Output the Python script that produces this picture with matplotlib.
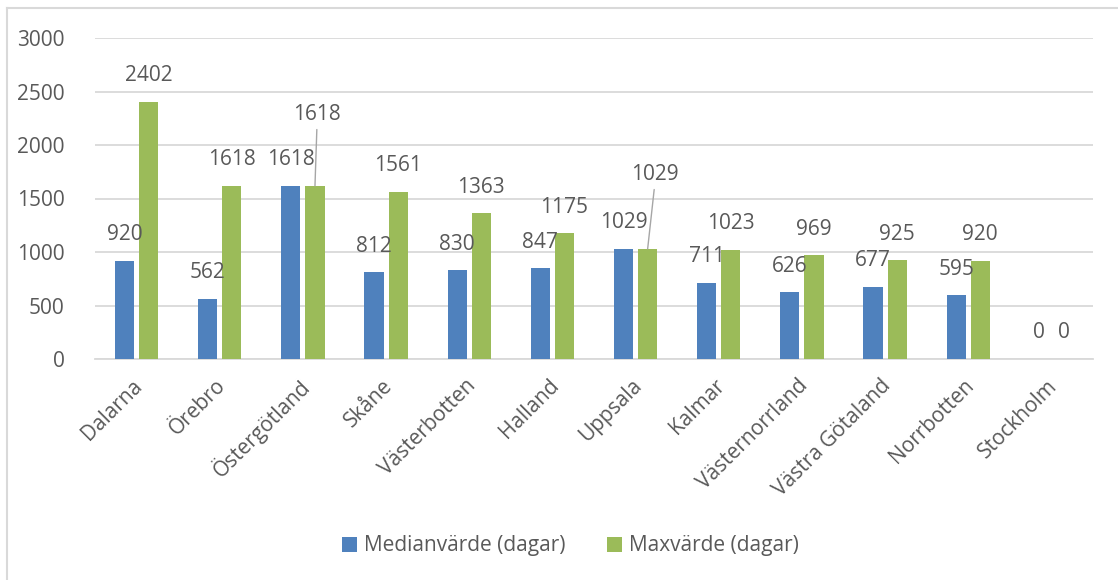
import matplotlib
matplotlib.use("Agg")
import matplotlib.pyplot as plt
import matplotlib.transforms as mtrans
import numpy as np
from matplotlib.lines import Line2D
from matplotlib.patches import Patch

categories = ["Dalarna", "Örebro", "Östergötland", "Skåne", "Västerbotten", "Halland",
              "Uppsala", "Kalmar", "Västernorrland", "Västra Götaland", "Norrbotten", "Stockholm"]
median_values = [920, 562, 1618, 812, 830, 847, 1029, 711, 626, 677, 595, 0]
max_values = [2402, 1618, 1618, 1561, 1363, 1175, 1029, 1023, 969, 925, 920, 0]
series_names = ["Medianvärde (dagar)", "Maxvärde (dagar)"]
y_ticks = [0, 500, 1000, 1500, 2000, 2500, 3000]

BLUE = "#4F81BD"
GREEN = "#9BBB59"
TEXT = "#595959"
GRID = "#D9D9D9"

plt.rcParams['font.family'] = ['Open Sans', 'DejaVu Sans']

W, H = 1118, 580
fig = plt.figure(figsize=(W / 100, H / 100), dpi=100)
fig.patch.set_facecolor("white")
# outer chart frame (only top and left edges visible in the reference)
fig.add_artist(Line2D([7 / W, 1.0], [1 - 8 / H, 1 - 8 / H], transform=fig.transFigure,
                      color=GRID, linewidth=1.5))
fig.add_artist(Line2D([7 / W, 7 / W], [0.0, 1 - 8 / H], transform=fig.transFigure,
                      color=GRID, linewidth=1.5))

ax = fig.add_axes([95 / W, 1 - 359 / H, (1093 - 95) / W, (359 - 38) / H])
x = np.arange(len(categories))
w = 0.23
off = 0.145
ax.bar(x - off, median_values, w, color=BLUE, zorder=3)
ax.bar(x + off, max_values, w, color=GREEN, zorder=3)

ax.set_xlim(-0.5, len(categories) - 0.5)
ax.set_ylim(0, 3000)
ax.set_yticks(y_ticks)
ax.set_yticklabels([str(t) for t in y_ticks])
ax.grid(axis='y', color=GRID, linewidth=1.3, zorder=0)
for s in ["top", "right", "left"]:
    ax.spines[s].set_visible(False)
ax.spines["bottom"].set_color(GRID)
ax.spines["bottom"].set_linewidth(1.3)
ax.tick_params(axis='y', length=0, pad=22, labelsize=15, labelcolor=TEXT)
ax.tick_params(axis='x', length=0, pad=17, labelsize=15, labelcolor=TEXT)
ax.set_xticks(x)
ax.set_xticklabels(categories, rotation=45, ha='right', va='center', rotation_mode='anchor')
shift = mtrans.ScaledTranslation(3 / 100, 0, fig.dpi_scale_trans)
for lbl in ax.get_xticklabels():
    lbl.set_transform(lbl.get_transform() + shift)

pt = 72 / 100  # px -> pt
special = {2: (2, 71), 6: (7, 74)}  # green labels moved with leader lines (px)

for i in range(len(categories)):
    ax.annotate(str(median_values[i]), xy=(x[i] - off, median_values[i]),
                xytext=(0, 26 * pt), textcoords='offset points', ha='center', va='center',
                fontsize=15, color=TEXT)
    if i in special:
        dx, dy = special[i]
        ax.annotate(str(max_values[i]), xy=(x[i] + off, max_values[i]),
                    xytext=(dx * pt, dy * pt), textcoords='offset points', ha='center', va='center',
                    fontsize=15, color=TEXT,
                    arrowprops=dict(arrowstyle='-', color='#A6A6A6', lw=1.0,
                                    relpos=(0.5, 0.0), shrinkA=1, shrinkB=0))
    else:
        ax.annotate(str(max_values[i]), xy=(x[i] + off, max_values[i]),
                    xytext=(0, 26 * pt), textcoords='offset points', ha='center', va='center',
                    fontsize=15, color=TEXT)

handles = [Patch(facecolor=BLUE), Patch(facecolor=GREEN)]
fig.legend(handles, series_names, loc='center', bbox_to_anchor=(0.51, 1 - 546 / H),
           ncol=2, frameon=False, fontsize=15, handlelength=0.75, handleheight=0.75,
           handletextpad=0.3, columnspacing=2.0, labelcolor=TEXT)

fig.savefig("out.png", dpi=100, facecolor="white")
